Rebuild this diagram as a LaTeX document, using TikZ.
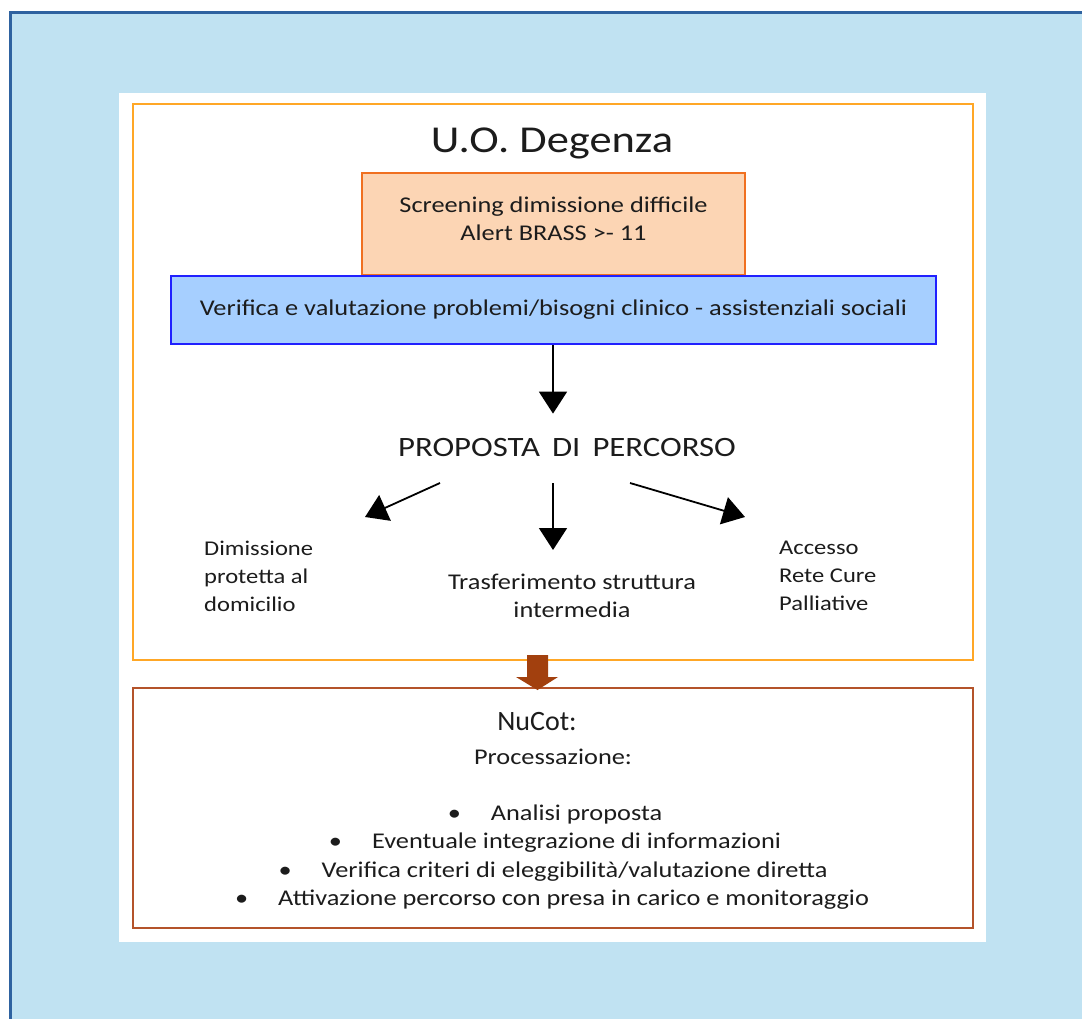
\documentclass[tikz,border=0pt]{standalone}
\usepackage{fontspec}
\setmainfont{Carlito}[FakeStretch=1.17]
\newfontfamily\narrowfont{Carlito}
\usetikzlibrary{arrows.meta, positioning}

\definecolor{bgblue}{HTML}{C0E2F2}
\definecolor{edgeblue}{HTML}{2E62A0}
\definecolor{frameorange}{HTML}{FFA726}
\definecolor{screenfill}{HTML}{FCD5B4}
\definecolor{screenedge}{HTML}{F07020}
\definecolor{checkfill}{HTML}{A6CFFF}
\definecolor{checkedge}{HTML}{2020FF}
\definecolor{nucotbrown}{HTML}{B4532A}
\definecolor{arrowbrown}{HTML}{A2400E}
\definecolor{ink}{HTML}{1C1C1C}

\begin{document}
\begin{tikzpicture}[x=1pt, y=-1pt, text=ink,
    body/.style={font=\fontsize{22.5}{28}\selectfont, inner sep=0pt},
    side/.style={font=\fontsize{21}{28}\selectfont, inner sep=0pt, anchor=west, align=left},
    flow/.style={line width=1.8pt, -{Triangle[length=22pt,width=28pt]}},
    frame/.style={line width=2.5pt, minimum width=840pt, inner sep=0pt},
]
\useasboundingbox (0,0) rectangle (1082,1019);
\clip (0,0) rectangle (1082,1019);
\fill[white] (0,0) rectangle (1082,1019);

% background panel
\draw[line width=3pt, draw=edgeblue, fill=bgblue] (10.5,12.5) rectangle (1100,1040);
\fill[white] (119,93) rectangle (986,942);

% frames
\node[frame, draw=frameorange, minimum height=556pt] (degenza) at (553,382) {};
\node[frame, draw=nucotbrown, minimum height=240pt] (nucot) at (553,808) {};

% U.O. Degenza
\node[inner sep=0pt, font=\fontsize{38}{44}\selectfont] (title) at (552,143) {U.O. Degenza};
\node[draw=screenedge, line width=2pt, fill=screenfill, inner sep=0pt,
      minimum width=383pt, minimum height=102pt,
      label={[body, align=center, yshift=5pt]center:Screening dimissione difficile\\Alert BRASS >- 11}]
      (screening) at (553.5,224) {};
\node[body, draw=checkedge, line width=2pt, fill=checkfill,
      minimum width=765pt, minimum height=68pt] (verifica) at (553.5,310)
      {Verifica e valutazione problemi/bisogni clinico - assistenziali sociali};

\node[inner sep=0pt, font=\fontsize{28}{34}\selectfont] (proposta) at (567,448) {PROPOSTA\, DI\, PERCORSO};

\node[side] (domicilio) at (204,576) {Dimissione\\protetta al\\domicilio};
\node[body, align=center] (struttura) at (572,596) {Trasferimento struttura\\intermedia};
\node[side] (palliative) at (779,576) {Accesso\\Rete Cure\\Palliative};

% arrows
\coordinate (pl) at (440,483);
\coordinate (pm) at (553,483);
\coordinate (pr) at (630,483);
\coordinate (dl) at (365,517);
\coordinate (dm) at (553,550);
\coordinate (dr) at (745,517);
\draw[flow, shorten >=25pt] (verifica.south -| pm) -- (proposta.north -| pm);
\draw[flow] (pl) -- (dl);
\draw[flow] (pm) -- (dm);
\draw[flow] (pr) -- (dr);

\fill[arrowbrown] (527,655) -- (548,655) -- (548,677) -- (558,677) -- (537.5,690)
    -- (516,677) -- (527,677) -- cycle;

% NuCot
\node[inner sep=0pt, font=\narrowfont\fontsize{28}{34}\selectfont] (nutitle) at (537,722) {NuCot:};
\node[body] (proc) at (553,757) {Processazione:};
\node[body] (b1) at (555,814) {\textbullet\hspace{30pt}Analisi proposta};
\node[body] (b2) at (555,843) {\textbullet\hspace{30pt}Eventuale integrazione di informazioni};
\node[body] (b3) at (553,872) {\textbullet\hspace{30pt}Verifica criteri di eleggibilità/valutazione diretta};
\node[body] (b4) at (552,900) {\textbullet\hspace{30pt}Attivazione percorso con presa in carico e monitoraggio};
\end{tikzpicture}
\end{document}
